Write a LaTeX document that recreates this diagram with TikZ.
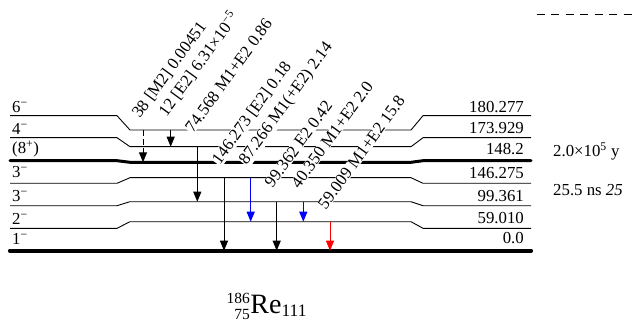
\documentclass[tikz,border=0pt]{standalone}
\usepackage{fontspec}
\setmainfont{Liberation Serif}
\usetikzlibrary{arrows.meta}
\begin{document}
\begin{tikzpicture}[x=1pt,y=-1pt,
  lvl/.style={line width=0.9pt},
  thicklvl/.style={line width=3pt, line cap=round},
  gslvl/.style={line width=4.2pt, line cap=round},
  txt/.style={font=\fontsize{16.8}{20}\selectfont, inner sep=0pt},
  tlbl/.style={txt, rotate=54, anchor=base west, fill=white, inner xsep=0.5pt, inner ysep=0.3pt},
  gam/.style={line width=1pt, -{Triangle[length=10pt,width=8pt]}},
  dgam/.style={gam, dash pattern=on 6pt off 3pt},
]
\useasboundingbox (0,0) rectangle (633,329);

% levels
\draw[lvl] (10,115.7) -- (117,115.7) -- (130,130) -- (411,130) -- (423,115.7) -- (531,115.7);
\draw[lvl] (10,137.7) -- (117,137.7) -- (130,146.7) -- (411,146.7) -- (423,137.7) -- (531,137.7);
\draw[thicklvl] (10,160.7) -- (117,160.7) -- (130,162.3) -- (411,162.3) -- (423,160.7) -- (531,160.7);
\draw[lvl] (10,183.3) -- (117,183.3) -- (130,177.7) -- (411,177.7) -- (423,183.3) -- (531,183.3);
\draw[lvl] (10,205.7) -- (117,205.7) -- (130,201.7) -- (411,201.7) -- (423,205.7) -- (531,205.7);
\draw[lvl] (10,228.3) -- (117,228.3) -- (130,221.7) -- (411,221.7) -- (423,228.3) -- (531,228.3);
\draw[gslvl] (10,250.7) -- (531,250.7);

% spin labels
\node[txt, anchor=base west] (s1) at (12,112.5) {6\textsuperscript{−}};
\node[txt, anchor=base west] (s2) at (12,134.5) {4\textsuperscript{−}};
\node[txt, anchor=base west] (s3) at (12,153.5) {(8\textsuperscript{+})};
\node[txt, anchor=base west] (s4) at (12,177.3) {3\textsuperscript{−}};
\node[txt, anchor=base west] (s5) at (12,201.3) {3\textsuperscript{−}};
\node[txt, anchor=base west] (s6) at (12,224.3) {2\textsuperscript{−}};
\node[txt, anchor=base west] (s7) at (12,244.5) {1\textsuperscript{−}};

% energy labels
\node[txt, anchor=base east] (e1) at (524,113) {180.277};
\node[txt, anchor=base east] (e2) at (524,133.8) {173.929};
\node[txt, anchor=base east] (e3) at (524,154.5) {148.2};
\node[txt, anchor=base east] (e4) at (524,178.3) {146.275};
\node[txt, anchor=base east] (e5) at (524,201.2) {99.361};
\node[txt, anchor=base east] (e6) at (524,223.5) {59.010};
\node[txt, anchor=base east] (e7) at (524,243.5) {0.0};

% half-lives
\node[txt, anchor=base west] (h1) at (553,156.7) {2.0×10\textsuperscript{5} y};
\node[txt, anchor=base west] (h2) at (553,195) {25.5 ns \textit{25}};

% transition labels
\node[tlbl] (l1) at (139.5,119.5) {38 [M2] 0.00451};
\node[tlbl] (l2) at (166.2,118) {12 [E2] 6.31×10\textsuperscript{−5}};
\node[tlbl] (l3) at (192.8,134.2) {74.568 M1+E2 0.86};
\node[tlbl] (l4) at (219.5,165.7) {146.273 [E2] 0.18};
\node[tlbl] (l5) at (246.2,165.7) {87.266 M1(+E2) 2.14};
\node[tlbl] (l6) at (272.2,189.2) {99.362 E2 0.42};
\node[tlbl] (l7) at (298.8,189.7) {40.350 M1+E2 2.0};
\node[tlbl] (l8) at (325.5,211) {59.009 M1+E2 15.8};

% transition end points
\coordinate (t1a) at (143,130);   \coordinate (t1b) at (143,162.3);
\coordinate (t2a) at (170.7,130); \coordinate (t2b) at (170.7,146.7);
\coordinate (t3a) at (197.3,146.7); \coordinate (t3b) at (197.3,201.7);
\coordinate (t4a) at (224,177.7); \coordinate (t4b) at (224,250.7);
\coordinate (t5a) at (250.7,177.7); \coordinate (t5b) at (250.7,221.7);
\coordinate (t6a) at (276.7,201.7); \coordinate (t6b) at (276.7,250.7);
\coordinate (t7a) at (303.3,201.7); \coordinate (t7b) at (303.3,221.7);
\coordinate (t8a) at (330,221.7); \coordinate (t8b) at (330,250.7);

\draw[dgam] (t1a) -- (t1b);
\draw[gam] (t2a) -- (t2b);
\draw[gam] (t3a) -- (t3b);
\draw[gam] (t4a) -- (t4b);
\draw[gam, blue] (t5a) -- (t5b);
\draw[gam] (t6a) -- (t6b);
\draw[gam, blue] (t7a) -- (t7b);
\draw[gam, red] (t8a) -- (t8b);

% top-right dashed line
\coordinate (d1) at (536.7,14);
\coordinate (d2) at (645,14);
\draw[line width=0.8pt, dash pattern=on 8pt off 6.5pt] (d1) -- (d2);

% nuclide
\node[inner sep=0pt, anchor=base west] (nuc) at (226.5,313)
  {\fontsize{28}{30}\selectfont $%
  {}^{\mbox{\fontsize{15.5}{16}\selectfont 186}}_{\mbox{\fontsize{15.5}{16}\selectfont\phantom{1}75}}%
  \mbox{Re}_{\mbox{\fontsize{17.5}{18}\selectfont 111}}$};
\end{tikzpicture}
\end{document}
